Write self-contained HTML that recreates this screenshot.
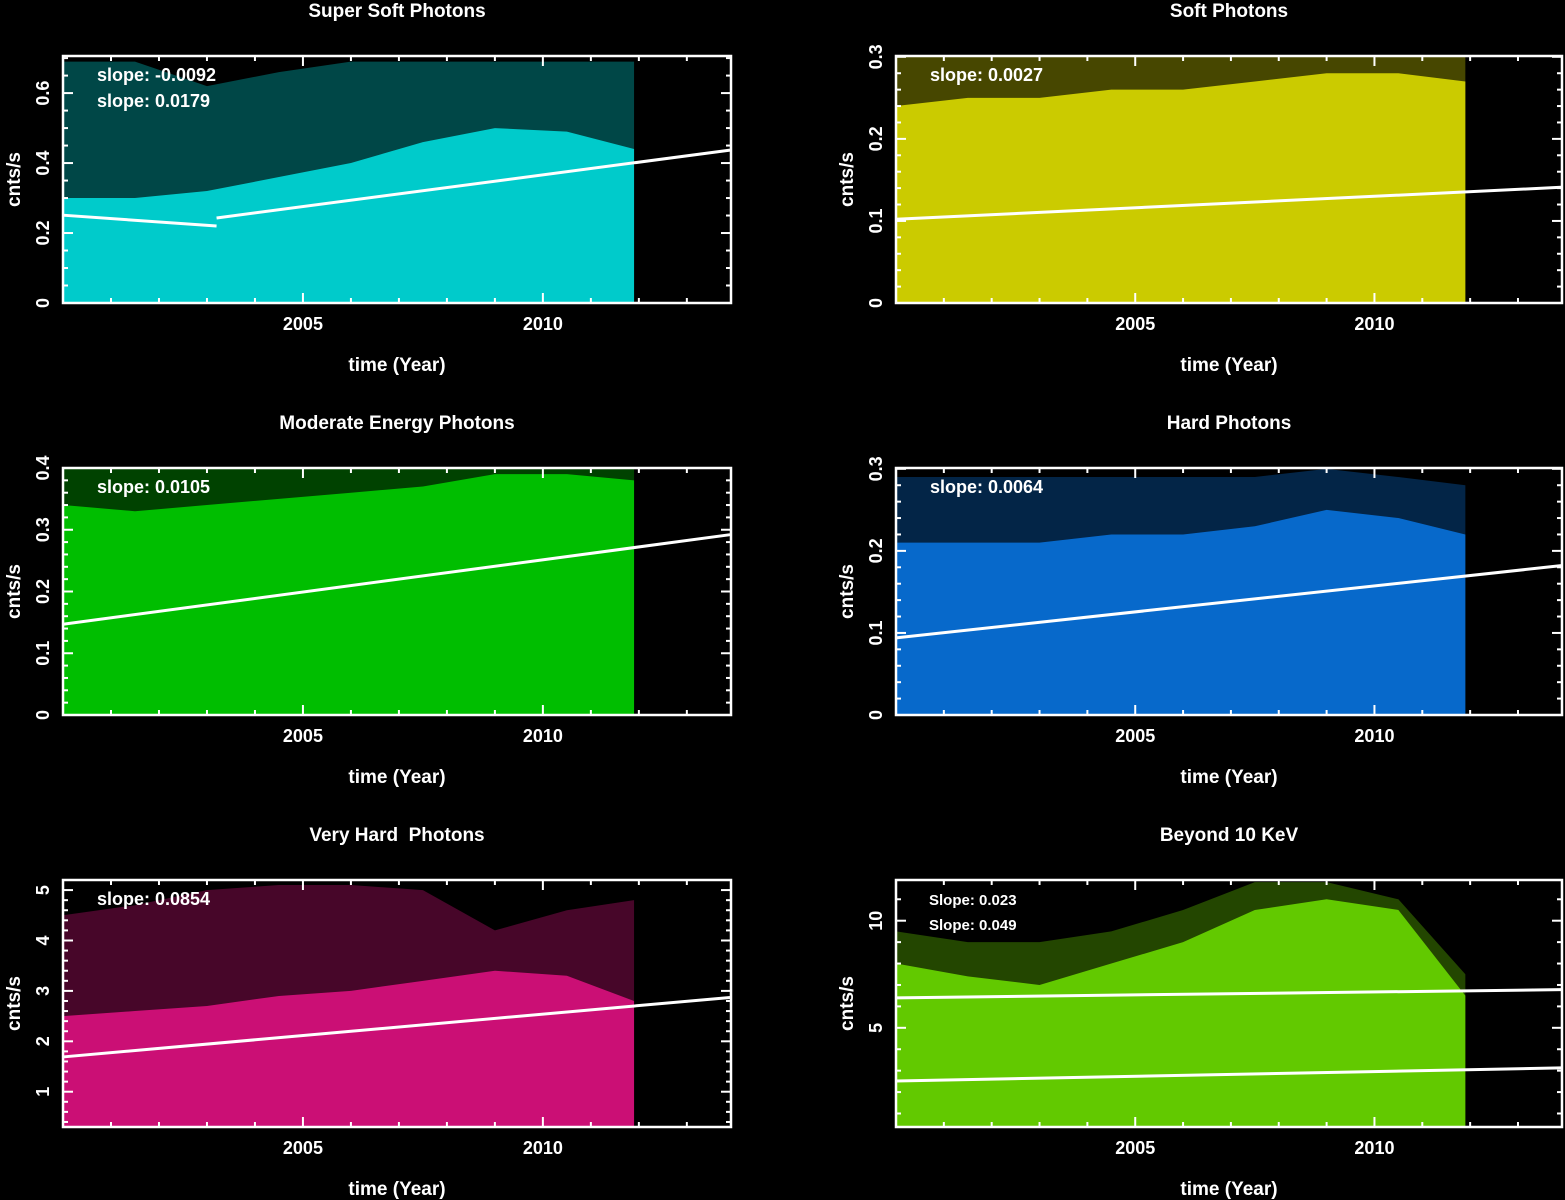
<!DOCTYPE html>
<html><head><meta charset="utf-8">
<style>
html,body{margin:0;padding:0;background:#000;}
svg{display:block;}
text{font-family:"Liberation Sans",sans-serif;font-weight:bold;fill:#fff;white-space:pre;}
</style></head>
<body>
<svg id="chart" width="1565" height="1200" viewBox="0 0 1565 1200"></svg>
<script>
// ---- data (years, envelope levels, trend lines) ----
const envYears = [2000, 2001.5, 2003, 2004.5, 2006, 2007.5, 2009, 2010.5, 2011.9];
const superSoftDense = [0.30, 0.30, 0.32, 0.36, 0.40, 0.46, 0.50, 0.49, 0.44];
const superSoftSparse = [0.69, 0.69, 0.62, 0.66, 0.69, 0.69, 0.69, 0.69, 0.69];
const softDense = [0.24, 0.25, 0.25, 0.26, 0.26, 0.27, 0.28, 0.28, 0.27];
const softSparse = [0.30, 0.30, 0.30, 0.30, 0.30, 0.30, 0.30, 0.30, 0.30];
const moderateDense = [0.34, 0.33, 0.34, 0.35, 0.36, 0.37, 0.39, 0.39, 0.38];
const moderateSparse = [0.40, 0.40, 0.40, 0.40, 0.40, 0.40, 0.40, 0.40, 0.40];
const hardDense = [0.21, 0.21, 0.21, 0.22, 0.22, 0.23, 0.25, 0.24, 0.22];
const hardSparse = [0.29, 0.29, 0.29, 0.29, 0.29, 0.29, 0.30, 0.29, 0.28];
const veryHardDense = [2.5, 2.6, 2.7, 2.9, 3.0, 3.2, 3.4, 3.3, 2.8];
const veryHardSparse = [4.5, 4.7, 5.0, 5.1, 5.1, 5.0, 4.2, 4.6, 4.8];
const beyondDense = [8.0, 7.4, 7.0, 8.0, 9.0, 10.5, 11.0, 10.5, 6.5];
const beyondSparse = [9.5, 9.0, 9.0, 9.5, 10.5, 11.8, 11.8, 11.0, 7.5];
// trend line endpoints: [year0, value0, year1, value1]
const superSoftLines = [[2000, 0.251, 2003.2, 0.22], [2003.2, 0.243, 2013.9, 0.437]];
const softLines = [[2000, 0.102, 2013.9, 0.141]];
const moderateLines = [[2000, 0.147, 2013.9, 0.292]];
const hardLines = [[2000, 0.094, 2013.9, 0.182]];
const veryHardLines = [[2000, 1.69, 2013.9, 2.87]];
const beyondLines = [[2000, 6.4, 2013.9, 6.78], [2000, 2.52, 2013.9, 3.13]];
const superSoftSlopes = ["slope: -0.0092", "slope: 0.0179"];
const softSlopes = ["slope: 0.0027"];
const moderateSlopes = ["slope: 0.0105"];
const hardSlopes = ["slope: 0.0064"];
const veryHardSlopes = ["slope: 0.0854"];
const beyondSlopes = ["Slope: 0.023", "Slope: 0.049"];
const xTickLabels = [2005, 2010];

const NS = "http://www.w3.org/2000/svg";
const svg = document.getElementById("chart");
function mk(tag, attrs, parent) {
  const e = document.createElementNS(NS, tag);
  for (const k in attrs) e.setAttribute(k, attrs[k]);
  (parent || svg).appendChild(e);
  return e;
}

const panels = [
  {name:"super-soft", title:"Super Soft Photons", L:63, R:731, T:56, B:303, y0:0, y1:0.706, color:"#00ffff", dense:superSoftDense, sparse:superSoftSparse, lines:superSoftLines, slopes:superSoftSlopes, yt:[0,0.2,0.4,0.6], ytl:["0","0.2","0.4","0.6"], ym:0.05, small:false},
  {name:"soft", title:"Soft Photons", L:896, R:1562, T:56, B:303, y0:0, y1:0.301, color:"#ffff00", dense:softDense, sparse:softSparse, lines:softLines, slopes:softSlopes, yt:[0,0.1,0.2,0.3], ytl:["0","0.1","0.2","0.3"], ym:0.02, small:false},
  {name:"moderate", title:"Moderate Energy Photons", L:63, R:731, T:468, B:715, y0:0, y1:0.4, color:"#00ee00", dense:moderateDense, sparse:moderateSparse, lines:moderateLines, slopes:moderateSlopes, yt:[0,0.1,0.2,0.3,0.4], ytl:["0","0.1","0.2","0.3","0.4"], ym:0.02, small:false},
  {name:"hard", title:"Hard Photons", L:896, R:1562, T:468, B:715, y0:0, y1:0.301, color:"#0a84ff", dense:hardDense, sparse:hardSparse, lines:hardLines, slopes:hardSlopes, yt:[0,0.1,0.2,0.3], ytl:["0","0.1","0.2","0.3"], ym:0.02, small:false},
  {name:"very-hard", title:"Very Hard  Photons", L:63, R:731, T:880, B:1127, y0:0.3, y1:5.2, color:"#ff1493", dense:veryHardDense, sparse:veryHardSparse, lines:veryHardLines, slopes:veryHardSlopes, yt:[1,2,3,4,5], ytl:["1","2","3","4","5"], ym:0.2, small:false},
  {name:"beyond-10kev", title:"Beyond 10 KeV", L:896, R:1562, T:880, B:1127, y0:0.37, y1:11.9, color:"#7cfc00", dense:beyondDense, sparse:beyondSparse, lines:beyondLines, slopes:beyondSlopes, yt:[5,10], ytl:["5","10"], ym:1, small:true}
];

panels.forEach(p => {
  const g = mk("g", {});
  
  
  const X = yr => p.L + (yr - 2000) / 13.92 * (p.R - p.L);
  const Y = v => p.B - (v - p.y0) / (p.y1 - p.y0) * (p.B - p.T);
  const cx = (p.L + p.R) / 2;

  const t = mk("text", {x:cx, y:p.T - 39, "font-size":19, "text-anchor":"middle"}, g);
  t.textContent = p.title;
  
  

  let d = "M" + X(envYears[0]) + "," + Y(p.y0);
  envYears.forEach((yr, i) => { d += " L" + X(yr) + "," + Y(p.sparse[i]); });
  d += " L" + X(envYears[envYears.length - 1]) + "," + Y(p.y0) + " Z";
  const sp = mk("path", {d:d, fill:p.color, opacity:0.28}, g);
  
  
  d = "M" + X(envYears[0]) + "," + Y(p.y0);
  envYears.forEach((yr, i) => { d += " L" + X(yr) + "," + Y(p.dense[i]); });
  d += " L" + X(envYears[envYears.length - 1]) + "," + Y(p.y0) + " Z";
  const dp = mk("path", {d:d, fill:p.color, opacity:0.72}, g);
  
  

  p.lines.forEach((ln, i) => {
    const l = mk("line", {x1:X(ln[0]), y1:Y(ln[1]), x2:X(ln[2]), y2:Y(ln[3]), stroke:"#fff", "stroke-width":3}, g);
    
    
  });

  const fr = mk("rect", {x:p.L, y:p.T, width:p.R - p.L, height:p.B - p.T, fill:"none", stroke:"#fff", "stroke-width":2.5}, g);
  
  

  for (let yr = 2001; yr <= 2013; yr++) {
    const len = (yr % 5 === 0) ? 10 : 5;
    mk("line", {x1:X(yr), y1:p.B, x2:X(yr), y2:p.B - len, stroke:"#fff", "stroke-width":2}, g);
    mk("line", {x1:X(yr), y1:p.T, x2:X(yr), y2:p.T + len, stroke:"#fff", "stroke-width":2}, g);
  }
  xTickLabels.forEach(yr => {
    const tl = mk("text", {x:X(yr), y:p.B + 27, "font-size":18, "text-anchor":"middle"}, g);
    tl.textContent = yr;
    
    
  });
  const xt = mk("text", {x:cx, y:p.B + 68, "font-size":19, "text-anchor":"middle"}, g);
  xt.textContent = "time (Year)";
  
  

  for (let v = Math.ceil(p.y0 / p.ym) * p.ym; v <= p.y1 + 1e-9; v += p.ym) {
    const major = p.yt.some(m => Math.abs(m - v) < 1e-6);
    const len = major ? 10 : 5;
    mk("line", {x1:p.L, y1:Y(v), x2:p.L + len, y2:Y(v), stroke:"#fff", "stroke-width":2}, g);
    mk("line", {x1:p.R, y1:Y(v), x2:p.R - len, y2:Y(v), stroke:"#fff", "stroke-width":2}, g);
  }
  p.yt.forEach((v, i) => {
    const yy = Y(v);
    const tl = mk("text", {x:0, y:0, "font-size":18, "text-anchor":"middle", transform:"translate(" + (p.L - 14) + "," + yy + ") rotate(-90)"}, g);
    tl.textContent = p.ytl[i];
    
    
  });
  const yt = mk("text", {x:0, y:0, "font-size":19, "text-anchor":"middle", transform:"translate(" + (p.L - 43) + "," + ((p.T + p.B) / 2) + ") rotate(-90)"}, g);
  yt.textContent = "cnts/s";
  
  

  p.slopes.forEach((s, i) => {
    const st = mk("text", {x:p.L + (p.small ? 33 : 34), y:p.T + 25 + i * (p.small ? 25 : 26), "font-size":p.small ? 15 : 18}, g);
    st.textContent = s;
    
    
  });
});
</script>
</body></html>
